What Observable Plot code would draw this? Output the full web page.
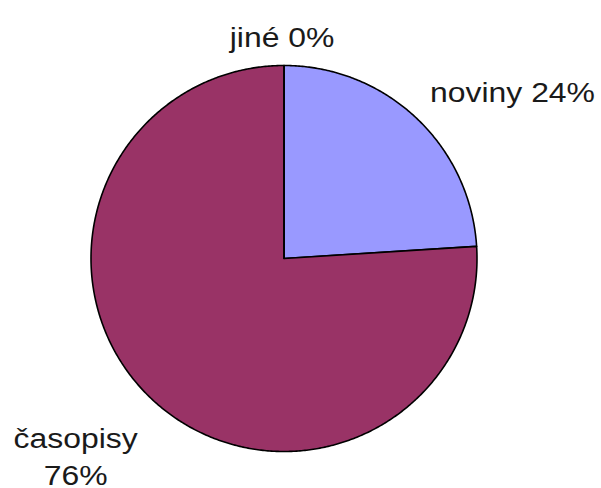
<!DOCTYPE html>
<html><head><meta charset="utf-8">
<script src="https://cdn.jsdelivr.net/npm/d3@7"></script>
<script src="https://cdn.jsdelivr.net/npm/@observablehq/plot@0.6"></script>
<style>html,body{margin:0;padding:0;background:#fff}</style>
</head><body><div id="chart"></div>
<script>
// ---- data ----
const categories = ["noviny", "časopisy", "jiné"];
const values = [24, 76, 0];
const colors = ["#9999FF", "#993366", "#C0C0C0"];
const labels = ["noviny 24%", "časopisy\n76%", "jiné 0%"];

// ---- layout ----
const W = 601, H = 488, cx = 283.5, cy = 258, r = 193;
const labelPos = [[1.184, 0.876], [-1.080, -1.015], [-0.0104, 1.161]]; // in radius units
const stretch = 1.14;

// ---- pie geometry from values ----
const arcs = d3.pie().sort(null).value(d => d)(values);
const pts = [];
arcs.forEach((a, i) => {
  const s = categories[i];
  pts.push({slice: s, x: 0, y: 0});
  const n = Math.max(1, Math.ceil((a.endAngle - a.startAngle) / (Math.PI / 360)));
  for (let k = 0; k <= n; k++) {
    const t = a.startAngle + (a.endAngle - a.startAngle) * k / n;
    pts.push({slice: s, x: Math.sin(t), y: Math.cos(t)});
  }
  pts.push({slice: s, x: 0, y: 0});
});

const chart = Plot.plot({
  width: W, height: H,
  margin: 0,
  x: {type: "linear", domain: [-cx / r, (W - cx) / r], range: [0, W], axis: null},
  y: {type: "linear", domain: [-(H - cy) / r, cy / r], range: [H, 0], axis: null},
  color: {domain: categories, range: colors},
  style: {background: "#fff", fontFamily: "'Liberation Sans', Arial, sans-serif"},
  marks: [
    Plot.line(pts, {x: "x", y: "y", z: "slice", fill: "slice", stroke: "#000", strokeWidth: 1.6, curve: "linear", strokeLinejoin: "round"}),
    Plot.text(labels, {
      x: (d, i) => labelPos[i][0], y: (d, i) => labelPos[i][1], text: d => d,
      fontSize: 28, lineHeight: 1.35, fill: "#1a1a1a", textAnchor: "middle",
      fontFamily: "'Liberation Sans', Arial, sans-serif"
    })
  ]
});
document.getElementById("chart").appendChild(chart);

// horizontal stretch of labels to match the reference lettering
chart.querySelectorAll("text").forEach(t => {
  const b = t.getBBox();
  const mx = b.x + b.width / 2;
  const old = t.getAttribute("transform") || "";
  t.setAttribute("transform", `${old} translate(${mx},0) scale(${stretch},1) translate(${-mx},0)`);
});
</script>
</body></html>
